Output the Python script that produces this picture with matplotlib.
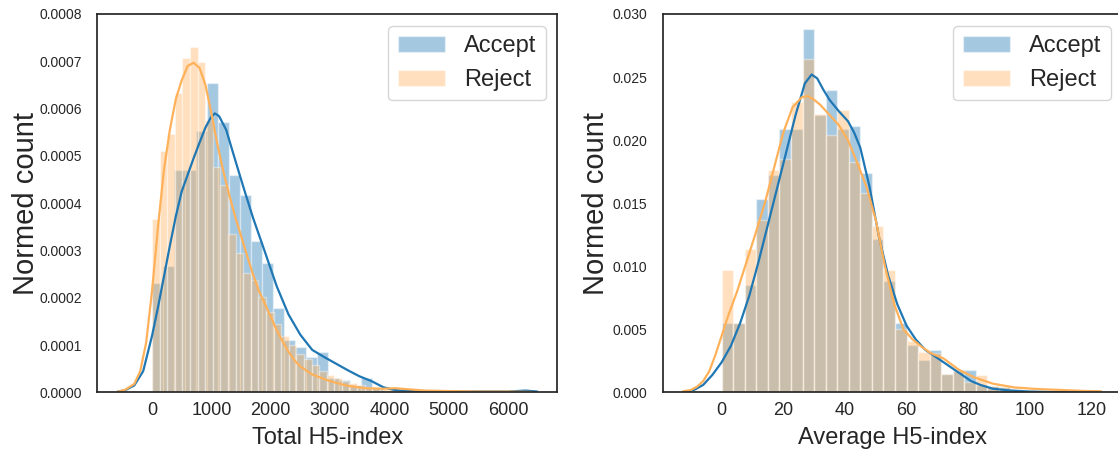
import numpy as np
import matplotlib
matplotlib.use("Agg")
import matplotlib.pyplot as plt
from matplotlib.ticker import FormatStrFormatter

plt.rcParams["font.family"] = ["Liberation Sans", "DejaVu Sans"]
plt.rcParams["text.color"] = ".15"
plt.rcParams["axes.labelcolor"] = ".15"
plt.rcParams["xtick.color"] = ".15"
plt.rcParams["ytick.color"] = ".15"

ACCEPT = "#1f77b4"
REJECT = "#ffb15a"

# ---- Total H5-index: normalised histograms (bin start, bin width, heights)
total_accept_start, total_accept_width = 0.0, 185.7
total_accept_hist = [
    0.000231, 0.000267, 0.000470, 0.000470, 0.000553, 0.000655, 0.000572,
    0.000460, 0.000417, 0.000321, 0.000273, 0.000178, 0.000110, 0.0000965,
    0.0000740, 0.0000862, 0.0000313, 0.0000264, 0.0000159, 0.0000313,
    0.0000100, 0.0000040, 0.0000020, 0.0000020, 0.0, 0.0000020, 0.0, 0.0,
    0.0000020, 0.0, 0.0, 0.0, 0.0, 0.0, 0.0000050,
]
total_reject_start, total_reject_width = 0.0, 128.0
total_reject_hist = [
    0.000366, 0.000511, 0.000546, 0.000632, 0.000708, 0.000730, 0.000699,
    0.000576, 0.000477, 0.000439, 0.000336, 0.000294, 0.000252, 0.000238,
    0.000202, 0.000170, 0.000145, 0.000120, 0.000100, 0.000082, 0.000070,
    0.000058, 0.000045, 0.000036, 0.000030, 0.000024, 0.000019, 0.000015,
    0.000012, 0.000010, 0.000008, 0.000011, 0.000008, 0.000004, 0.000003,
    0.000002, 0.000002, 0.0, 0.000002, 0.000002, 0.0, 0.000002, 0.0,
    0.000002, 0.0, 0.000002, 0.0, 0.000002, 0.0, 0.000002,
]

# density estimates for Total H5-index
total_accept_kde_x = [
    -570, -450, -300, -150, 0, 100, 200, 300, 400, 500, 600, 700, 800, 900,
    1000, 1060, 1130, 1250, 1400, 1550, 1700, 1900, 2100, 2300, 2500, 2700,
    2900, 3100, 3300, 3500, 3700, 3900, 4100, 4400, 4800, 5200, 5600, 6000,
    6300, 6480,
]
total_accept_kde_y = [
    0.000002, 0.000005, 0.000015, 0.000045, 0.000120, 0.000180, 0.000245,
    0.000310, 0.000372, 0.000425, 0.000460, 0.000495, 0.000528, 0.000560,
    0.000583, 0.000590, 0.000584, 0.000555, 0.000492, 0.000430, 0.000370,
    0.000298, 0.000225, 0.000165, 0.000122, 0.000090, 0.000075, 0.000061,
    0.000047, 0.000034, 0.000024, 0.000011, 0.000005, 0.000003, 0.000002,
    0.000002, 0.000002, 0.000002, 0.000004, 0.000002,
]
total_reject_kde_x = [
    -570, -450, -300, -200, -100, 0, 100, 200, 300, 400, 500, 600, 700, 800,
    900, 1000, 1100, 1200, 1300, 1400, 1500, 1600, 1700, 1800, 1900, 2000,
    2100, 2200, 2300, 2400, 2500, 2700, 3000, 3300, 3600, 3900, 4100, 4300,
    4600, 5000, 5500, 6000, 6400,
]
total_reject_kde_y = [
    0.000002, 0.000006, 0.000018, 0.000045, 0.000105, 0.000215, 0.000350,
    0.000470, 0.000555, 0.000620, 0.000660, 0.000690, 0.000697, 0.000686,
    0.000650, 0.000590, 0.000525, 0.000468, 0.000418, 0.000372, 0.000331,
    0.000290, 0.000250, 0.000215, 0.000188, 0.000160, 0.000132, 0.000108,
    0.000086, 0.000068, 0.000055, 0.000038, 0.000024, 0.000014, 0.000009,
    0.000008, 0.000009, 0.000007, 0.000004, 0.000003, 0.000002, 0.000002,
    0.000001,
]

# ---- Average H5-index
avg_start, avg_width = 0.0, 3.75
avg_accept_hist = [
    0.0055, 0.0055, 0.0085, 0.0153, 0.0172, 0.0209, 0.0209, 0.0288, 0.0220,
    0.0240, 0.0209, 0.0211, 0.0174, 0.0122, 0.0088, 0.0055, 0.0038, 0.0026,
    0.0034, 0.0015, 0.0018, 0.0018, 0.0006, 0.0005, 0.0004, 0.0002, 0.0002,
    0.0001, 0.0001, 0.0, 0.0, 0.0001,
]
avg_reject_hist = [
    0.0097, 0.0055, 0.0114, 0.0137, 0.0176, 0.0185, 0.0230, 0.0264, 0.0221,
    0.0204, 0.0224, 0.0183, 0.0158, 0.0132, 0.0097, 0.0050, 0.0041, 0.0032,
    0.0031, 0.0015, 0.0017, 0.0008, 0.0014, 0.0005, 0.0004, 0.0003, 0.0002,
    0.0001, 0.0001, 0.0001, 0.0001, 0.0001,
]

avg_accept_kde_x = [
    -12.4, -9, -6, -3, 0, 3, 6, 9, 12, 15, 18, 21, 24, 27, 29.2, 31, 33, 35,
    38, 41, 43, 45, 48, 51, 54, 57, 60, 63, 66, 69, 72, 75, 78, 81, 84, 88,
    93, 100, 108, 116, 123,
]
avg_accept_kde_y = [
    0.00002, 0.0002, 0.0006, 0.0014, 0.0024, 0.0037, 0.0055, 0.0077, 0.0104,
    0.0133, 0.0162, 0.0191, 0.0220, 0.0245, 0.0252, 0.0249, 0.0240, 0.0232,
    0.0223, 0.0215, 0.0206, 0.0194, 0.0163, 0.0124, 0.0093, 0.0070, 0.0053,
    0.0042, 0.0034, 0.0029, 0.0024, 0.0019, 0.0014, 0.0009, 0.0006, 0.0003,
    0.00017, 0.00007, 0.00004, 0.00002, 0.00001,
]
avg_reject_kde_x = [
    -12.4, -10, -8, -6, -4, -2, 0, 2, 5, 8, 11, 14, 17, 20, 23, 26, 28, 30,
    32, 35, 38, 41, 44, 47, 50, 53, 56, 59, 62, 65, 68, 72, 77, 82, 88, 95,
    102, 110, 118, 123,
]
avg_reject_kde_y = [
    0.0001, 0.0002, 0.00046, 0.0009, 0.0017, 0.0030, 0.0045, 0.0060, 0.0080,
    0.0103, 0.0126, 0.0150, 0.0178, 0.0206, 0.0226, 0.0234, 0.0235, 0.0232,
    0.0228, 0.0220, 0.0212, 0.0200, 0.0182, 0.0163, 0.0137, 0.0100, 0.0070,
    0.0050, 0.0042, 0.0036, 0.0031, 0.0027, 0.0018, 0.0012, 0.0007, 0.0004,
    0.00028, 0.0002, 0.00012, 0.0001,
]


def draw_hist(ax, start, width, heights, color, label):
    heights = np.asarray(heights)
    left = start + width * np.arange(len(heights))
    ax.bar(left, heights, width=width, align="edge", color=color, alpha=0.4,
           edgecolor="white", linewidth=1.0, label=label)


def style_axis(ax, xlabel, xlim, ylim, xticks, yticks, yfmt, ylabel_x):
    ax.set_xlim(*xlim)
    ax.set_ylim(*ylim)
    ax.set_xticks(xticks)
    ax.set_yticks(yticks)
    ax.yaxis.set_major_formatter(FormatStrFormatter(yfmt))
    ax.tick_params(axis="x", length=0, pad=7, labelsize=13)
    ax.tick_params(axis="y", length=0, pad=11, labelsize=10)
    for s in ax.spines.values():
        s.set_color(".15")
        s.set_linewidth(1.25)
    ax.set_xlabel(xlabel, fontsize=17)
    ax.set_ylabel("Normed count", fontsize=21)
    ax.yaxis.set_label_coords(ylabel_x, 0.5)
    ax.xaxis.set_label_coords(0.5, -0.09)
    ax.legend(loc="upper right", fontsize=17, frameon=True, fancybox=True,
              edgecolor="0.8", framealpha=0.8)


fig = plt.figure(figsize=(11.18, 4.54), dpi=100)
ax1 = fig.add_axes([0.0872, 0.1355, 0.4114, 0.8337])
ax2 = fig.add_axes([0.5926, 0.1355, 0.4114, 0.8337])

# left panel: total index
draw_hist(ax1, total_accept_start, total_accept_width, total_accept_hist, ACCEPT, "Accept")
ax1.plot(total_accept_kde_x, total_accept_kde_y, color=ACCEPT, lw=1.6)
draw_hist(ax1, total_reject_start, total_reject_width, total_reject_hist, REJECT, "Reject")
ax1.plot(total_reject_kde_x, total_reject_kde_y, color=REJECT, lw=1.6)
style_axis(ax1, "Total H5-index", (-920, 6834), (0, 0.0008),
           np.arange(0, 7000, 1000), np.arange(0, 0.00081, 0.0001), "%.4f", -0.125)

# right panel: average index
draw_hist(ax2, avg_start, avg_width, avg_accept_hist, ACCEPT, "Accept")
ax2.plot(avg_accept_kde_x, avg_accept_kde_y, color=ACCEPT, lw=1.6)
draw_hist(ax2, avg_start, avg_width, avg_reject_hist, REJECT, "Reject")
ax2.plot(avg_reject_kde_x, avg_reject_kde_y, color=REJECT, lw=1.6)
style_axis(ax2, "Average H5-index", (-19.2, 130.1), (0, 0.030),
           np.arange(0, 121, 20), np.arange(0, 0.0301, 0.005), "%.3f", -0.115)

fig.savefig("out.png", dpi=100)
